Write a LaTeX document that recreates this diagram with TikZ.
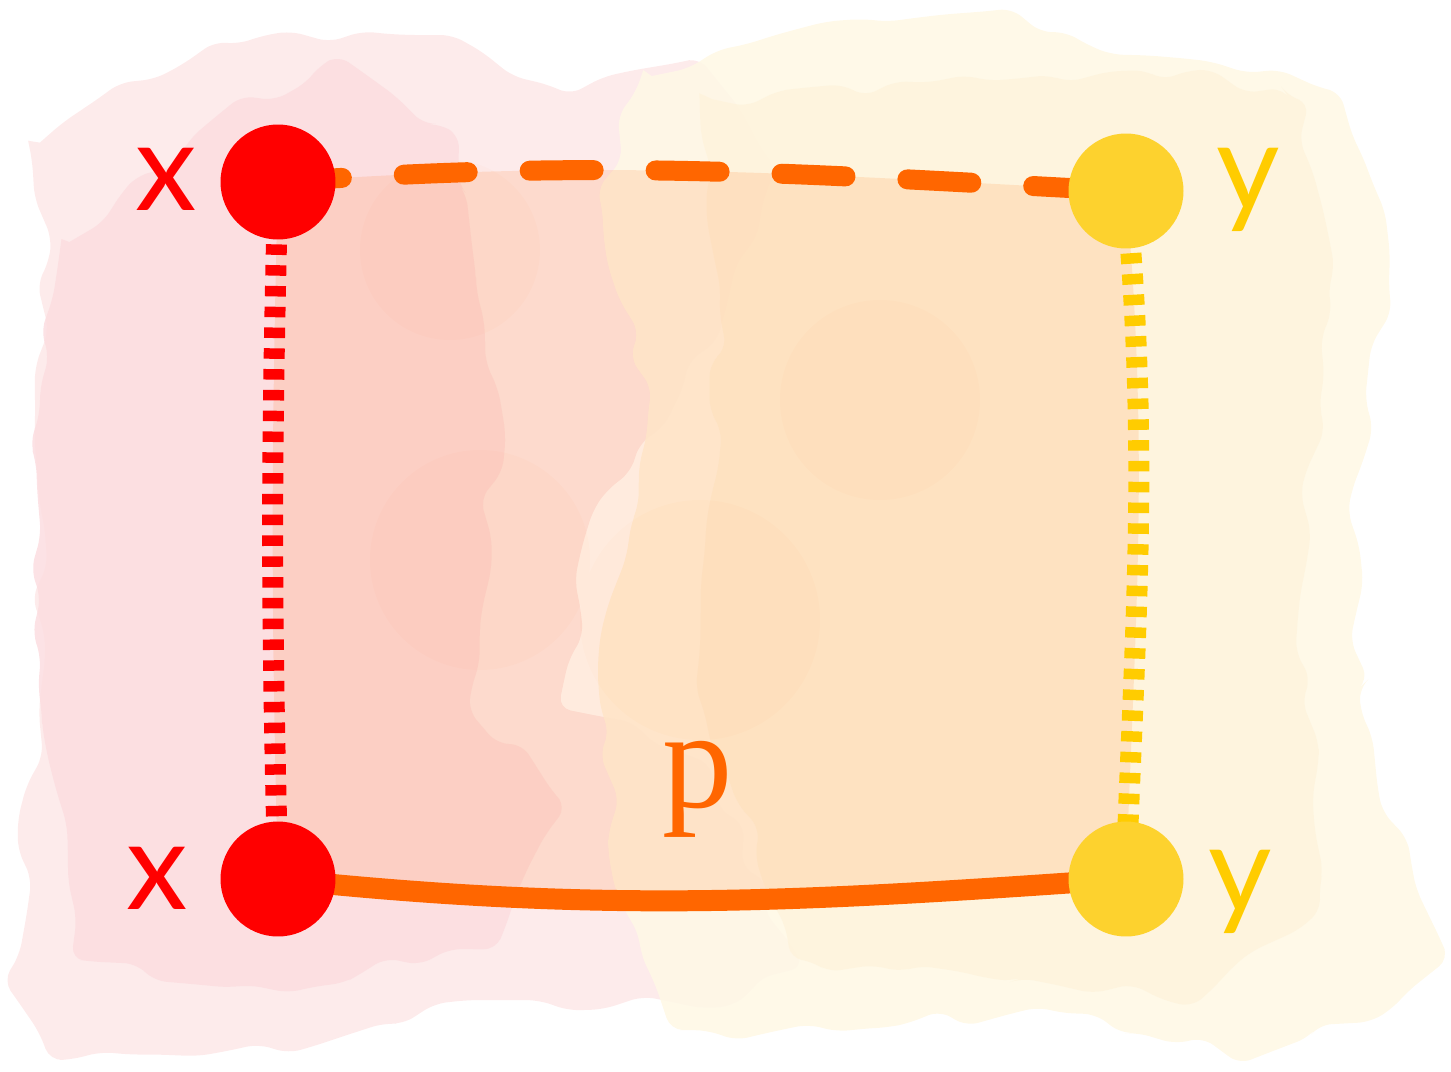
\documentclass[tikz,border=0pt]{standalone}
\usepackage{fontspec}
\setmainfont{Liberation Serif}
\newfontfamily\labfont{Lato}
\usetikzlibrary{decorations.pathmorphing}
\definecolor{nred}{HTML}{FF0000}
\definecolor{nyel}{HTML}{FDD22E}
\definecolor{lyel}{HTML}{FFCC00}
\definecolor{orng}{HTML}{FF6600}
\definecolor{pinkA}{HTML}{FDE9E9}
\definecolor{pinkB}{HTML}{FCDDE0}
\definecolor{yelA}{HTML}{FFF8E6}
\definecolor{yelB}{HTML}{FEF3DA}
\pgfdeclarelayer{bg}
\pgfdeclarelayer{edges}
\pgfsetlayers{bg,edges,main}
\begin{document}
\begin{tikzpicture}[x=0.02cm,y=0.02cm,
  dot/.style={circle, minimum size=2.3cm, inner sep=0pt},
  lab/.style={font=\labfont\fontsize{70}{70}\selectfont, anchor=base, inner sep=0pt},
  plab/.style={font=\fontsize{80}{80}\selectfont, anchor=base, inner sep=0pt, text=orng},
  paint/.style={decorate, decoration={random steps, segment length=18pt, amplitude=6pt}, rounded corners=7pt},
  dashedge/.style={draw=orng, line width=0.4cm, dash pattern=on 1.28cm off 1.24cm, line cap=round},
  dotedge/.style={line width=0.42cm, dash pattern=on 0.21cm off 0.206cm},
  solidedge/.style={draw=orng, line width=0.42cm}]
\useasboundingbox (0,0) rectangle (1451,-1072);
\pgfmathsetseed{7}
% nodes
\node[dot, fill=nred] (xa) at (278,-182) {};
\node[dot, fill=nred] (xb) at (278,-879) {};
\node[dot, fill=nyel] (ya) at (1126,-191) {};
\node[dot, fill=nyel] (yb) at (1126,-879) {};
% labels
\node[lab, text=nred] (lxa) at (166,-210) {x};
\node[lab, text=nred] (lxb) at (157,-909) {x};
\node[lab, text=lyel] (lya) at (1248,-210) {y};
\node[lab, text=lyel] (lyb) at (1240,-912) {y};
\node[plab] (lp) at (698,-807) {p};
\begin{pgfonlayer}{bg}
  % pink paint
  \fill[pinkA, paint, opacity=0.9] (30,-150) -- (110,-90) -- (250,-40) -- (440,-35) -- (560,-90) -- (690,-60) -- (770,-160) -- (720,-330) -- (600,-500) -- (560,-700) -- (700,-760) -- (800,-960) -- (740,-1000) -- (480,-1000) -- (300,-1050) -- (60,-1060) -- (10,-990) -- (40,-700) -- (35,-400) -- (50,-250) -- cycle;
  % yellow paint
  \fill[yelA, paint, opacity=0.9] (640,-80) -- (760,-40) -- (900,-20) -- (1000,-10) -- (1100,-50) -- (1200,-60) -- (1330,-90) -- (1380,-200) -- (1390,-300) -- (1350,-500) -- (1360,-700) -- (1380,-800) -- (1445,-950) -- (1400,-1000) -- (1250,-1060) -- (1050,-1010) -- (850,-1030) -- (680,-1030) -- (620,-900) -- (600,-700) -- (650,-400) -- (600,-200) -- cycle;
  \fill[pinkB, paint, opacity=0.85] (60,-250) -- (200,-130) -- (330,-60) -- (450,-130) -- (500,-400) -- (470,-700) -- (560,-800) -- (500,-940) -- (300,-990) -- (80,-960) -- (40,-700) -- (40,-400) -- cycle;
  \fill[yelB, paint, opacity=0.7] (700,-100) -- (1000,-80) -- (1200,-70) -- (1300,-100) -- (1330,-300) -- (1300,-600) -- (1320,-900) -- (1200,-1000) -- (1000,-980) -- (800,-960) -- (700,-700) -- (720,-300) -- cycle;
\end{pgfonlayer}
\begin{pgfonlayer}{edges}
  % square fill
  \fill[orng, opacity=0.13] (xa.center) to[out=4, in=177] (ya.center) to[out=275, in=88] (yb.center) to[out=184, in=-6] (xb.center) to[out=91.5, in=268.5] (xa.center) -- cycle;
  \fill[orng, opacity=0.02] (450,-250) circle (90) (480,-560) circle (110) (700,-620) circle (120) (880,-400) circle (100);
  % connectors
  \draw[dashedge] (xa.center) to[out=4, in=177] (ya.center);
  \draw[solidedge] (xb.center) to[out=-6, in=184] (yb.center);
  \draw[dotedge, draw=nred] (xa.center) to[out=268.5, in=91.5] (xb.center);
  \draw[dotedge, draw=lyel] (ya.center) to[out=275, in=88] (yb.center);
\end{pgfonlayer}
\end{tikzpicture}
\end{document}
